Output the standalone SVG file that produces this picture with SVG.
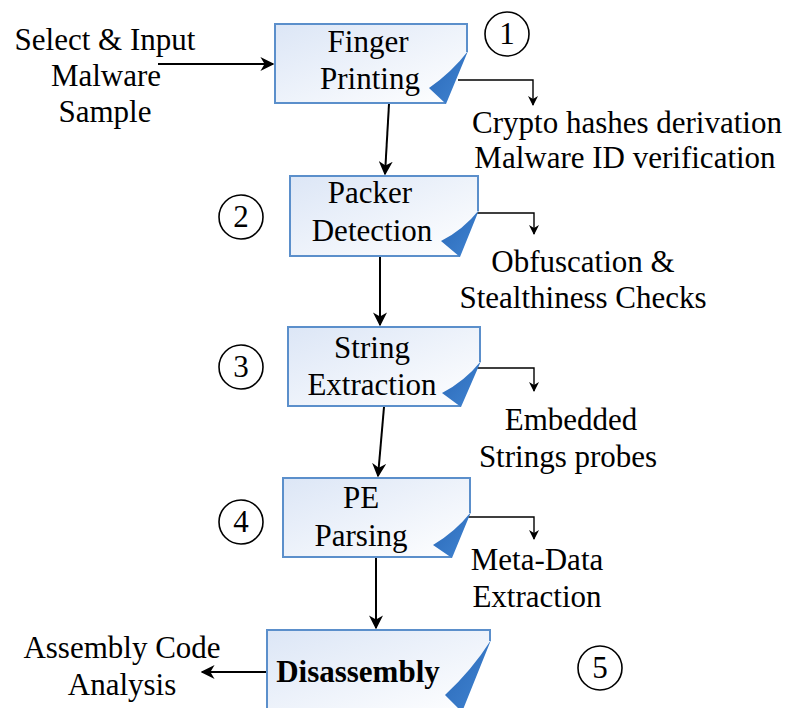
<svg xmlns="http://www.w3.org/2000/svg" width="787" height="708" viewBox="0 0 787 708">
<defs>
<linearGradient id="boxg" x1="0" y1="0" x2="1" y2="1">
<stop offset="0" stop-color="#dce6f6"/>
<stop offset="1" stop-color="#ffffff"/>
</linearGradient>
<linearGradient id="foldg" x1="0" y1="0" x2="1" y2="1">
<stop offset="0" stop-color="#2a69b8"/>
<stop offset="0.7" stop-color="#3a7cca"/>
<stop offset="1" stop-color="#5d98dc"/>
</linearGradient>
<marker id="ah" viewBox="0 0 10 10" refX="9" refY="5" markerWidth="10" markerHeight="10" markerUnits="userSpaceOnUse" orient="auto">
<path d="M0,0 L10,5 L0,10 L3,5 Z" fill="#000"/>
</marker>
<marker id="ahs" viewBox="0 0 10 10" refX="9" refY="5" markerWidth="14" markerHeight="14" markerUnits="userSpaceOnUse" orient="auto">
<path d="M0,0 L10,5 L0,10 L3,5 Z" fill="#000"/>
</marker>
</defs>
<style>
.box{fill:url(#boxg);stroke:#5b8fcb;stroke-width:2;stroke-linejoin:miter}
.fold{fill:url(#foldg);stroke:none}
.t{font-family:"Liberation Serif","Times New Roman",serif;font-size:31px;fill:#000;text-anchor:middle}
.b{font-weight:bold}
.c{fill:#fff;stroke:#000;stroke-width:1.6}
.ln{fill:none;stroke:#000;stroke-width:2}
.ln1{fill:none;stroke:#000;stroke-width:1.4}
</style>

<g id="connectors">
<path class="ln" d="M158,64 L273,64" marker-end="url(#ahs)"/>
<path class="ln" d="M389,104 L385,174" marker-end="url(#ahs)"/>
<path class="ln" d="M380,257 L380,325" marker-end="url(#ahs)"/>
<path class="ln" d="M384,407 L378,476" marker-end="url(#ahs)"/>
<path class="ln" d="M376,558 L376,628" marker-end="url(#ahs)"/>
<path class="ln" d="M267,672 L202,672" marker-end="url(#ahs)"/>
<path class="ln1" d="M458,80 L533,80 L533,105" marker-end="url(#ah)"/>
<path class="ln1" d="M470,213 L534,213 L534,234" marker-end="url(#ah)"/>
<path class="ln1" d="M470,368 L534,368 L534,391" marker-end="url(#ah)"/>
<path class="ln1" d="M462,517 L534,517 L534,539" marker-end="url(#ah)"/>
</g>

<g id="n1">
<path class="box" d="M467,52 L467,24 L275,24 L275,103 L446,103"/>
<path class="fold" d="M468,51 Q452,72 429,88 L446,104 Z"/>
<text class="t" x="368" y="52">Finger</text>
<text class="t" x="370" y="89">Printing</text>
</g>
<g id="n2">
<path class="box" d="M478,211 L478,176 L290,176 L290,256 L460,256"/>
<path class="fold" d="M479,210 Q463,230 441,241 L460,257 Z"/>
<text class="t" x="370" y="203">Packer</text>
<text class="t" x="372" y="241">Detection</text>
</g>
<g id="n3">
<path class="box" d="M480,362 L480,327 L288,327 L288,406 L461,406"/>
<path class="fold" d="M481,361 Q465,381 442,393 L461,407 Z"/>
<text class="t" x="372" y="358">String</text>
<text class="t" x="372" y="395">Extraction</text>
</g>
<g id="n4">
<path class="box" d="M470,513 L470,478 L283,478 L283,557 L452,557"/>
<path class="fold" d="M471,512 Q455,532 433,545 L452,558 Z"/>
<text class="t" x="361" y="508">PE</text>
<text class="t" x="361" y="546">Parsing</text>
</g>
<g id="n5">
<path class="box" d="M490,641 L490,630 L267,630 L267,712 L462,712"/>
<path class="fold" d="M491,640 Q472,670 445,695 L462,712 Z"/>
<text class="t b" x="358" y="682">Disassembly</text>
</g>

<g id="circles">
<circle class="c" cx="507" cy="34" r="22"/>
<text class="t" x="507" y="44">1</text>
<circle class="c" cx="241" cy="217" r="22"/>
<text class="t" x="241" y="227">2</text>
<circle class="c" cx="241" cy="367" r="22"/>
<text class="t" x="241" y="377">3</text>
<circle class="c" cx="241" cy="522" r="22"/>
<text class="t" x="241" y="532">4</text>
<circle class="c" cx="600" cy="668" r="22"/>
<text class="t" x="600" y="678">5</text>
</g>

<g id="labels">
<text class="t" x="105" y="50">Select &amp; Input</text>
<text class="t" x="106" y="86">Malware</text>
<text class="t" x="105" y="122">Sample</text>
<text class="t" x="627" y="133">Crypto hashes derivation</text>
<text class="t" x="625" y="168">Malware ID verification</text>
<text class="t" x="583" y="272">Obfuscation &amp;</text>
<text class="t" x="583" y="308">Stealthiness Checks</text>
<text class="t" x="571" y="430">Embedded</text>
<text class="t" x="568" y="467">Strings probes</text>
<text class="t" x="537" y="570">Meta-Data</text>
<text class="t" x="537" y="607">Extraction</text>
<text class="t" x="122" y="658">Assembly Code</text>
<text class="t" x="122" y="695">Analysis</text>
</g>
</svg>
